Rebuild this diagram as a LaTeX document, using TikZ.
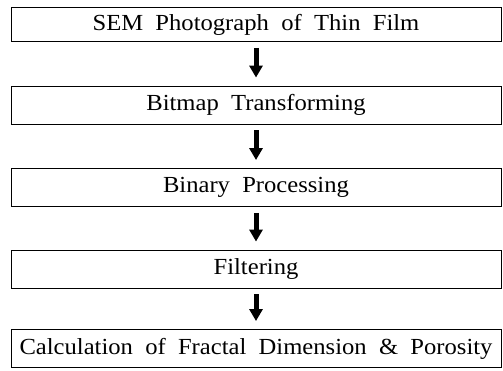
\documentclass[tikz,border=0pt]{standalone}
\usepackage{fontspec}
\setmainfont{Liberation Serif}[FakeStretch=1.07, WordSpace=2]
\usetikzlibrary{arrows.meta}
\begin{document}
\begin{tikzpicture}[x=1pt,y=1pt,
  stepbox/.style={draw=black, line width=0.9pt, minimum width=490pt, minimum height=38pt,
    inner sep=0pt, font=\fontsize{23}{27}\selectfont, anchor=center},
  bigarrow/.style={line width=5pt, -{Triangle[width=13pt,length=12pt]}, shorten <=6pt, shorten >=8pt}]
\useasboundingbox (0,0) rectangle (503,370);
\node[stepbox, minimum height=34pt] (b1) at (256,345.5) {SEM Photograph of Thin Film};
\node[stepbox] (b2) at (256,265) {Bitmap Transforming};
\node[stepbox] (b3) at (256,182.5) {Binary Processing};
\node[stepbox] (b4) at (256,101) {Filtering};
\node[stepbox] (b5) at (256,21.5) {Calculation of Fractal Dimension \& Porosity};
\draw[bigarrow] (b1.south) -- (b2.north);
\draw[bigarrow] (b2.south) -- (b3.north);
\draw[bigarrow] (b3.south) -- (b4.north);
\draw[bigarrow] (b4.south) -- (b5.north);
\end{tikzpicture}
\end{document}
